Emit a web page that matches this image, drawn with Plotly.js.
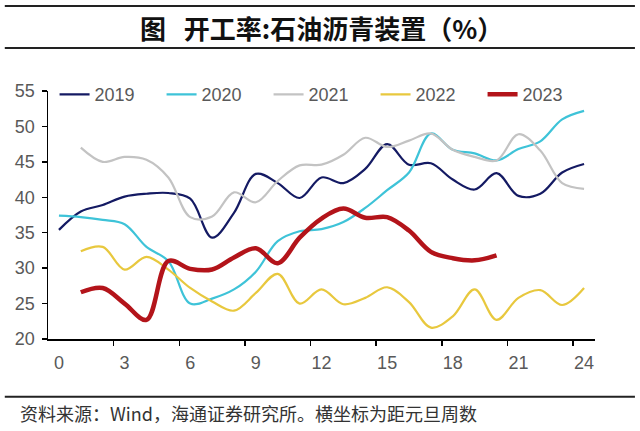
<!DOCTYPE html>
<html>
<head>
<meta charset="utf-8">
<script src="https://cdn.plot.ly/plotly-3.0.1.min.js"></script>
<style>
html,body{margin:0;padding:0;background:#fff;}
#chart{width:640px;height:431px;}
</style>
</head>
<body>
<div id="chart"></div>
<script>
// Week index (weeks from New Year's Day)
const weeks = [0,1,2,3,4,5,6,7,8,9,10,11,12,13,14,15,16,17,18,19,20,21,22,23,24];
const weeksFrom1 = weeks.slice(1);
const weeks2023 = [1,2,3,4,5,6,7,8,9,10,11,12,13,14,15,16,17,18,19,20];

const y2019 = [35.4,38.0,38.9,40.1,40.5,40.6,39.8,34.3,37.8,43.3,42.0,39.9,42.8,42.0,44.0,47.5,44.6,44.8,42.5,41.1,43.4,40.2,40.5,43.5,44.7];
const y2020 = [37.4,37.2,36.8,36.2,33.0,31.0,25.0,25.7,27.0,29.5,33.8,35.2,35.5,36.5,38.5,41.0,43.5,49.0,46.7,46.2,45.2,46.8,47.9,51.0,52.2];
const y2021 = [47.0,45.0,45.7,45.3,42.8,37.2,37.3,40.7,39.3,42.3,44.5,44.6,46.0,48.4,47.1,48.0,49.0,46.7,45.7,45.2,48.9,46.6,42.0,41.2];
const y2022 = [32.4,33.0,29.8,31.6,29.8,27.2,25.3,24.0,26.5,29.2,25.0,27.0,24.9,25.8,27.3,25.2,21.6,23.2,27.0,22.7,25.8,26.9,24.8,27.2];
const y2023 = [26.6,27.2,25.0,22.7,31.0,29.9,29.8,31.5,32.8,30.7,34.3,37.0,38.4,37.1,37.2,35.3,32.3,31.4,31.1,31.8];

const seriesNames = ['2019','2020','2021','2022','2023'];
const xTickVals = [0,3,6,9,12,15,18,21,24];
const xTickText = ['0','3','6','9','12','15','18','21','24'];
const xBoundaryTicks = [2.5,5.5,8.5,11.5,14.5,17.5,20.5,23.5];
const yTickVals = [20,25,30,35,40,45,50,55];

const titleText = '图\u00a0\u00a0\u00a0开工率:石油沥青装置（%）';
const sourceText = '资料来源：Wind，海通证券研究所。横坐标为距元旦周数';

const colors = ['#141a63','#3ec3d8','#c3c3c3','#e8c83e','#b3141a'];
const widths = [2.2,2.2,2.2,2.2,4.5];
const xs = [weeks, weeks, weeksFrom1, weeksFrom1, weeks2023];
const ys = [y2019, y2020, y2021, y2022, y2023];

const traces = seriesNames.map((n,i)=>({
  x: xs[i], y: ys[i], name: n, type:'scatter', mode:'lines',
  line:{color:colors[i], width:widths[i], shape:'spline', smoothing:1},
  xaxis:'x', yaxis:'y', hoverinfo:'skip'
}));
// invisible trace for boundary tick axis
traces.push({x:[0], y:[20], xaxis:'x2', yaxis:'y', mode:'markers', marker:{opacity:0}, showlegend:false, hoverinfo:'skip'});

const font = 'Liberation Sans, Arial, sans-serif';
const cjk = 'Noto Sans CJK SC, sans-serif';

const layout = {
  width:640, height:431,
  margin:{l:48, r:45, t:91, b:92},
  paper_bgcolor:'#fff', plot_bgcolor:'#fff',
  showlegend:true,
  legend:{orientation:'h', x:0.012, xanchor:'left', y:1.06, yanchor:'top',
    font:{family:font, size:18, color:'#595959'},
    entrywidth:62, entrywidthmode:'pixels', bgcolor:'rgba(0,0,0,0)', traceorder:'normal'},
  xaxis:{range:[-0.5,24.5], tickmode:'array', tickvals:xTickVals, ticktext:xTickText,
    ticks:'', showgrid:false, zeroline:false, showline:true, linecolor:'#000', linewidth:1.5,
    tickfont:{family:font, size:18, color:'#595959'}, ticklabelstandoff:7, fixedrange:true},
  xaxis2:{range:[-0.5,24.5], overlaying:'x', anchor:'y', side:'bottom', tickmode:'array',
    tickvals:xBoundaryTicks, ticks:'outside', ticklen:6, tickwidth:1.5, tickcolor:'#000',
    showticklabels:false, showgrid:false, zeroline:false, showline:false},
  yaxis:{range:[20,55], tickmode:'array', tickvals:yTickVals, ticks:'outside', ticklen:5,
    tickwidth:1.5, tickcolor:'#000', showgrid:false, zeroline:false, showline:true,
    linecolor:'#000', linewidth:1.5, tickfont:{family:font, size:18, color:'#595959'},
    ticklabelstandoff:3, fixedrange:true},
  shapes:[
    {type:'line', xref:'paper', yref:'paper', x0:-0.079, x1:1.073, y0:1.343, y1:1.343, line:{color:'#222', width:2}},
    {type:'line', xref:'paper', yref:'paper', x0:-0.079, x1:1.073, y0:1.173, y1:1.173, line:{color:'#222', width:2}},
    {type:'line', xref:'paper', yref:'paper', x0:-0.079, x1:1.073, y0:-0.233, y1:-0.233, line:{color:'#222', width:2}}
  ],
  annotations:[
    {text:'<b>'+titleText+'</b>', xref:'paper', yref:'paper', x:0.5, y:1.258, xanchor:'center', yanchor:'middle',
     showarrow:false, font:{family:cjk, size:26, color:'#111'}},
    {text:sourceText, xref:'paper', yref:'paper', x:-0.055, y:-0.297, xanchor:'left', yanchor:'middle',
     showarrow:false, font:{family:cjk, size:18, color:'#333'}}
  ]
};

Plotly.newPlot('chart', traces, layout, {staticPlot:true, displayModeBar:false});
</script>
</body>
</html>
